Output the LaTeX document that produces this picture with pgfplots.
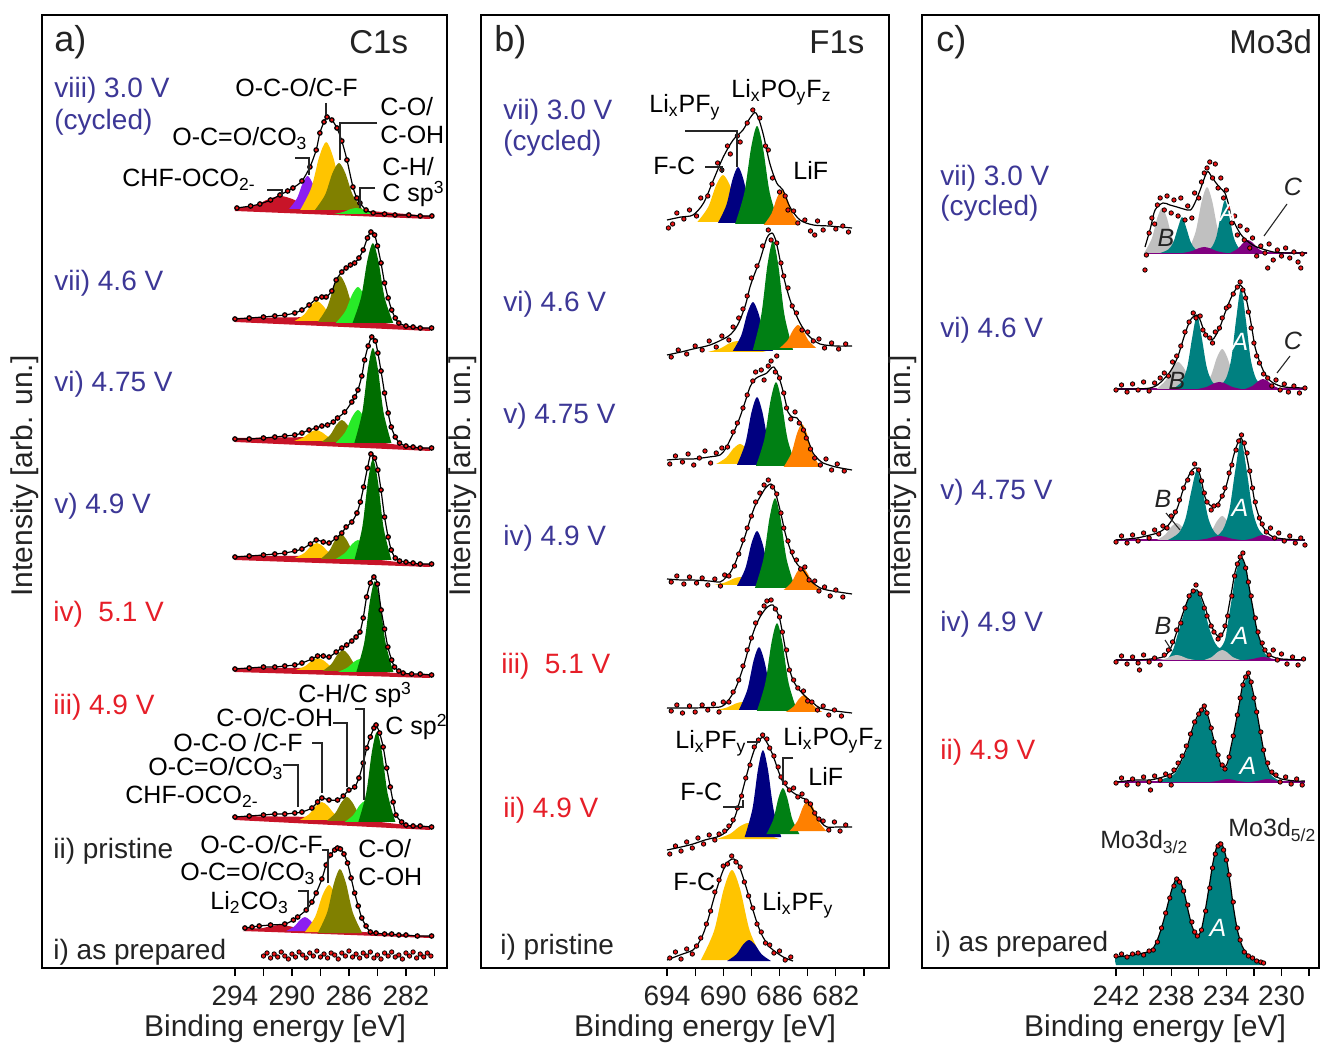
\documentclass[border=0pt]{standalone}
\usepackage{fontspec}
\setmainfont{Liberation Sans}
\usepackage{pgfplots}
\pgfplotsset{compat=1.18}
\definecolor{cCrim}{RGB}{200,20,40}
\definecolor{cViol}{RGB}{140,30,240}
\definecolor{cGold}{RGB}{255,196,0}
\definecolor{cOliv}{RGB}{128,128,0}
\definecolor{cLgrn}{RGB}{40,235,40}
\definecolor{cDgrn}{RGB}{0,110,0}
\definecolor{cFgrn}{RGB}{0,128,20}
\definecolor{cNavy}{RGB}{0,0,128}
\definecolor{cOrng}{RGB}{255,128,0}
\definecolor{cTeal}{RGB}{0,128,128}
\definecolor{cGray}{RGB}{192,192,192}
\definecolor{cPurp}{RGB}{128,0,128}
\definecolor{cDot}{RGB}{235,20,20}
\definecolor{cLblue}{RGB}{60,55,150}
\definecolor{cLred}{RGB}{230,30,40}
\definecolor{cTxt}{RGB}{35,35,35}
\newcommand{\fLet}{\fontsize{18}{18}\selectfont}
\newcommand{\fTit}{\fontsize{16.5}{16.5}\selectfont}
\newcommand{\fLab}{\fontsize{14}{14}\selectfont}
\newcommand{\fPk}{\fontsize{12.5}{12.5}\selectfont}
\newcommand{\fAx}{\fontsize{15}{15}\selectfont}
\pgfplotsset{
 panel/.style={anchor=south west, scale only axis, height=476.5pt, ymin=0, ymax=953, ytick=\empty,
   x dir=reverse, tick align=outside, xtick pos=bottom, major tick length=4pt, minor tick length=4pt,
   axis line style={line width=0.8pt}, every tick/.style={black, line width=0.6pt},
   xticklabel style={font=\fontsize{14}{14}\selectfont, yshift=-1.5pt, text=cTxt},
   /pgf/number format/assume math mode=true, /pgf/number format/1000 sep={}},
 comp/.style={draw=none, fill=#1, smooth},
 fit/.style={black, line width=0.6pt, smooth},
 envm/.style={black, line width=0.6pt, smooth, mark=*, mark size=1.1pt, mark options={draw=none, fill=cDot}},
 dots/.style={only marks, mark=*, mark size=1.1pt, mark options={draw=none, fill=cDot}},
}
\begin{document}
\begin{tikzpicture}
\useasboundingbox (0,0) rectangle (660pt,521.5pt);
%---------------- panel a : C1s
\begin{axis}[panel, at={(21pt,37.5pt)}, width=202.5pt, xmin=279.12, xmax=307.54,
  xtick={294,290,286,282}, minor xtick={292,288,284,280}]
% viii
\addplot[fill=cCrim, draw=none] coordinates {(294,761) (287,760) (282,754) (280.3,752) (280.3,749) (294,757)} -- cycle;
\addplot[comp=cCrim] coordinates {(287.68,758) (289.0,762.5) (289.96,768.9) (290.8,772) (291.64,768.9) (292.6,762.5) (293.92,758)} -- cycle;
\addplot[comp=cViol] coordinates {(287.6,759) (288.15,769.6) (288.55,784.7) (288.9,792) (289.25,784.7) (289.65,769.6) (290.2,759)} -- cycle;
\addplot[comp=cGold] coordinates {(285.78,758) (286.55,779.8) (287.11,811) (287.6,826) (288.09,811) (288.65,779.8) (289.42,758)} -- cycle;
\addplot[comp=cOliv] coordinates {(285.01,758) (285.73,773) (286.25,794.7) (286.7,805) (287.16,794.7) (287.68,773) (288.39,758)} -- cycle;
\addplot[comp=cLgrn] coordinates {(283.94,754) (284.6,756) (285.08,758.7) (285.5,760) (285.92,758.7) (286.4,756) (287.06,754)} -- cycle;
\addplot[envm] coordinates {(293.86,760) (292.9,762) (292.25,764) (291.5,768) (290.84,773) (290.3,777) (289.93,780) (289.3,787) (288.74,801) (288.3,818) (288.04,835) (287.75,846) (287.54,851) (287.2,848) (286.84,840) (286.5,827) (286.14,808) (285.72,781) (285.45,770) (285.23,765) (284.8,758) (284.3,755) (283.5,754) (282.77,753) (281.8,753) (281,752) (280.18,752)};
% vii
\addplot[fill=cCrim, draw=none] coordinates {(294,650) (288,651) (285,648) (282,642) (280.3,640) (280.3,637) (294,646)} -- cycle;
\addplot[comp=cGold] coordinates {(286.69,647) (287.35,653.4) (287.83,662.6) (288.25,667) (288.67,662.6) (289.15,653.4) (289.81,647)} -- cycle;
\addplot[comp=cOliv] coordinates {(285.07,646) (285.73,660.7) (286.21,681.9) (286.63,692) (287.05,681.9) (287.53,660.7) (288.19,646)} -- cycle;
\addplot[comp=cLgrn] coordinates {(283.81,645) (284.47,656.5) (284.95,673.1) (285.37,681) (285.79,673.1) (286.27,656.5) (286.93,645)} -- cycle;
\addplot[comp=cDgrn] coordinates {(282.89,645) (283.5,670.6) (283.94,707.4) (284.32,725) (284.71,707.4) (285.15,670.6) (285.75,645)} -- cycle;
\addplot[envm] coordinates {(294,649) (293,650) (292,651) (291.2,652) (290.5,653) (289.8,655) (289.3,658) (288.8,663) (288.3,669) (287.9,671) (287.6,671) (287.2,677) (286.9,688) (286.5,696) (286.2,700) (285.9,703) (285.6,705) (285.3,710) (285.0,718) (284.7,730) (284.46,736) (284.2,733) (284.0,722) (283.75,705) (283.5,685) (283.25,670) (283.0,658) (282.75,650) (282.5,645) (282,642) (281.5,641) (281,640) (280.2,640)};
% vi
\addplot[fill=cCrim, draw=none] coordinates {(294,530) (288,531) (285,528) (282,522) (280.3,520) (280.3,517) (294,526)} -- cycle;
\addplot[comp=cGold] coordinates {(286.74,527) (287.4,530.5) (287.88,535.6) (288.3,538) (288.72,535.6) (289.2,530.5) (289.86,527)} -- cycle;
\addplot[comp=cOliv] coordinates {(285.06,526) (285.67,533) (286.11,543.2) (286.49,548) (286.88,543.2) (287.32,533) (287.92,526)} -- cycle;
\addplot[comp=cLgrn] coordinates {(283.81,525) (284.47,535.6) (284.95,550.7) (285.37,558) (285.79,550.7) (286.27,535.6) (286.93,525)} -- cycle;
\addplot[comp=cDgrn] coordinates {(283.02,525) (283.57,555.4) (283.97,599.1) (284.32,620) (284.67,599.1) (285.07,555.4) (285.62,525)} -- cycle;
\addplot[envm] coordinates {(294,529) (293,529) (292,530) (291.2,531) (290.5,532) (289.8,533) (289.3,535) (288.8,538) (288.3,540) (287.9,542) (287.5,543) (287.1,546) (286.8,550) (286.3,556) (285.8,566) (285.6,571) (285.37,578) (285.1,592) (284.9,608) (284.65,622) (284.4,631) (284.15,627) (283.97,615) (283.75,597) (283.5,575) (283.25,555) (283.03,541) (282.75,531) (282.45,525) (282,522) (281.5,521) (281,520) (280.2,520)};
% v
\addplot[fill=cCrim, draw=none] coordinates {(294,412) (288,412) (285,410) (282,405) (280.3,404) (280.3,401) (294,408)} -- cycle;
\addplot[comp=cGold] coordinates {(286.69,410) (287.35,414.8) (287.83,421.7) (288.25,425) (288.67,421.7) (289.15,414.8) (289.81,410)} -- cycle;
\addplot[comp=cOliv] coordinates {(285.13,409) (285.74,417) (286.18,428.5) (286.56,434) (286.95,428.5) (287.39,417) (287.99,409)} -- cycle;
\addplot[comp=cLgrn] coordinates {(283.81,409) (284.47,415.1) (284.95,423.8) (285.37,428) (285.79,423.8) (286.27,415.1) (286.93,409)} -- cycle;
\addplot[comp=cDgrn] coordinates {(283.02,408) (283.57,440.3) (283.97,486.8) (284.32,509) (284.67,486.8) (285.07,440.3) (285.62,408)} -- cycle;
\addplot[envm] coordinates {(294,411) (293,412) (292,413) (291.2,414) (290.5,415) (289.8,417) (289.3,419) (288.7,424) (288.3,428) (287.8,426) (287.4,425) (286.9,430) (286.5,435) (286.2,441) (285.8,446) (285.44,455) (285.2,466) (284.97,481) (284.7,500) (284.46,514) (284.2,510) (283.97,498) (283.75,478) (283.5,451) (283.25,431) (283.03,418) (282.75,410) (282.45,407) (282,406) (281.5,405) (281,404) (280.2,404)};
% iv
\addplot[fill=cCrim, draw=none] coordinates {(294,300) (288,300) (285,298) (282,294) (280.3,293) (280.3,290) (294,296)} -- cycle;
\addplot[comp=cGold] coordinates {(286.62,298) (287.28,301.8) (287.76,307.4) (288.18,310) (288.6,307.4) (289.08,301.8) (289.74,298)} -- cycle;
\addplot[comp=cOliv] coordinates {(284.99,297) (285.6,303.7) (286.04,313.4) (286.42,318) (286.81,313.4) (287.25,303.7) (287.85,297)} -- cycle;
\addplot[comp=cLgrn] coordinates {(283.67,296) (284.33,300.2) (284.81,306.1) (285.23,309) (285.65,306.1) (286.13,300.2) (286.79,296)} -- cycle;
\addplot[comp=cDgrn] coordinates {(282.88,296) (283.43,325.1) (283.83,367) (284.18,387) (284.53,367) (284.93,325.1) (285.48,296)} -- cycle;
\addplot[envm] coordinates {(294,299) (293,300) (292,301) (291.2,301) (290.5,302) (289.8,303) (289.3,305) (288.6,309) (288.2,312) (287.8,312) (287.4,311) (286.9,316) (286.5,320) (286.16,323) (285.8,327) (285.5,331) (285.23,336) (285.0,350) (284.76,371) (284.5,385) (284.25,391) (284.0,384) (283.74,358) (283.5,339) (283.27,321) (283.0,308) (282.8,301) (282.5,297) (282.2,295) (281.6,294) (281,294) (280.2,293)};
% iii
\addplot[fill=cCrim, draw=none] coordinates {(294,152) (288,151) (285,148) (282,143) (280.3,141) (280.3,138) (294,148)} -- cycle;
\addplot[comp=cGold] coordinates {(286.34,148) (287.0,153.8) (287.48,162) (287.9,166) (288.32,162) (288.8,153.8) (289.46,148)} -- cycle;
\addplot[comp=cOliv] coordinates {(284.71,147) (285.32,154.7) (285.76,165.7) (286.14,171) (286.53,165.7) (286.97,154.7) (287.57,147)} -- cycle;
\addplot[comp=cLgrn] coordinates {(283.45,146) (284.06,152.7) (284.5,162.4) (284.88,167) (285.27,162.4) (285.71,152.7) (286.31,146)} -- cycle;
\addplot[comp=cDgrn] coordinates {(282.74,146) (283.29,174.8) (283.69,216.2) (284.04,236) (284.39,216.2) (284.79,174.8) (285.34,146)} -- cycle;
\addplot[envm] coordinates {(294,151) (293,152) (292,153) (291.2,154) (290.5,154) (289.8,155) (289.3,156) (288.6,160) (288.2,166) (287.9,170) (287.4,168) (286.8,168) (286.4,172) (286.0,178) (285.6,181) (285.3,190) (285.0,205) (284.75,220) (284.5,231) (284.25,240) (284.1,243) (283.85,235) (283.6,221) (283.35,200) (283.1,181) (282.9,166) (282.7,153) (282.3,146) (282,143) (281.5,142) (281,142) (280.2,141)};
% ii
\addplot[fill=cCrim, draw=none] coordinates {(293.3,40) (288,38) (285,36) (282,33) (280.3,32) (280.3,30) (293.3,37)} -- cycle;
\addplot[comp=cCrim] coordinates {(288.24,37) (289.34,39) (290.14,41.7) (290.84,43) (291.54,41.7) (292.34,39) (293.44,37)} -- cycle;
\addplot[comp=cViol] coordinates {(287.79,37) (288.34,41.5) (288.74,47.9) (289.09,51) (289.44,47.9) (289.84,41.5) (290.39,37)} -- cycle;
\addplot[comp=cGold] coordinates {(285.71,36) (286.43,51) (286.95,72.7) (287.4,83) (287.86,72.7) (288.38,51) (289.09,36)} -- cycle;
\addplot[comp=cOliv] coordinates {(285.07,35) (285.73,55.5) (286.21,84.9) (286.63,99) (287.05,84.9) (287.53,55.5) (288.19,35)} -- cycle;
\addplot[envm] coordinates {(293.3,40) (292.8,41) (292.3,42) (291.5,43) (290.5,44) (289.9,48) (289.6,51) (289.0,58) (288.6,66) (288.3,75) (287.9,89) (287.6,103) (287.3,113) (287.0,118) (286.8,120) (286.6,119) (286.35,114) (286.1,105) (285.85,90) (285.6,75) (285.35,62) (285.1,50) (284.8,42) (284.5,36) (284.1,35) (283.5,34) (283,34) (282.5,33) (282,33) (281.2,32) (280.2,32)};
% i
\addplot[dots] coordinates {(292.0,12) (291.75,15) (291.5,10) (291.25,14) (291.0,11) (290.75,16) (290.5,12) (290.25,9) (290.0,14) (289.75,11) (289.5,16) (289.25,13) (289.0,10) (288.75,15) (288.5,12) (288.25,17) (288.0,11) (287.75,14) (287.5,10) (287.25,15) (287.0,13) (286.75,9) (286.5,15) (286.25,12) (286.0,17) (285.75,11) (285.5,14) (285.25,10) (285.0,15) (284.75,12) (284.5,16) (284.25,10) (284.0,13) (283.75,9) (283.5,15) (283.25,12) (283.0,16) (282.75,11) (282.5,13) (282.25,9) (282.0,15) (281.75,12) (281.5,16) (281.25,10) (281.0,14) (280.75,11) (280.5,15) (280.25,12)};
\end{axis}
%---------------- panel b : F1s
\begin{axis}[panel, at={(240.5pt,37.5pt)}, width=204pt, xmin=678.22, xmax=707.22,
  xtick={694,690,686,682}, minor xtick={692,688,684,680}]
% vii
\addplot[comp=cGold] coordinates {(688.2,746) (688.97,761) (689.53,782.7) (690.02,793) (690.51,782.7) (691.07,761) (691.84,746)} -- cycle;
\addplot[comp=cNavy] coordinates {(687.52,745) (688.13,762.9) (688.57,788.7) (688.95,801) (689.34,788.7) (689.78,762.9) (690.38,745)} -- cycle;
\addplot[comp=cFgrn] coordinates {(686.04,744) (686.7,775.4) (687.18,820.4) (687.6,842) (688.02,820.4) (688.5,775.4) (689.16,744)} -- cycle;
\addplot[comp=cOrng] coordinates {(684.53,743) (685.08,754.2) (685.48,770.3) (685.83,778) (686.18,770.3) (686.58,754.2) (687.13,743)} -- cycle;
\addplot[dots] coordinates {(693.9,740) (693.6,744) (693.3,755) (692.8,749) (692.4,758) (691.9,752) (691.6,770) (691.1,772) (690.8,784) (690.4,805) (690.1,798) (689.7,822) (689.5,814) (689.0,832) (688.8,826) (688.3,845) (687.9,858) (687.4,850) (687.0,822) (686.8,818) (686.5,790) (686.0,776) (685.6,772) (685.4,758) (685.0,757) (684.7,745) (684.2,748) (683.8,737) (683.5,733) (683.3,747) (682.9,738) (682.4,745) (682.0,739) (681.5,742) (681.1,736)};
\addplot[fit] coordinates {(694,748) (693,751) (692.15,753) (691.4,765) (690.7,788) (690.0,811) (689.3,828) (688.6,838) (688.1,850) (687.67,855) (687.2,836) (686.7,805) (686.2,785) (685.76,778) (685.26,761) (684.55,748) (683.6,743) (682.5,742) (680.85,740)};
% vi
\addplot[comp=cGold] coordinates {(686.94,616) (687.82,619.5) (688.46,624.6) (689.02,627) (689.58,624.6) (690.22,619.5) (691.1,616)} -- cycle;
\addplot[comp=cNavy] coordinates {(686.46,617) (687.07,632.7) (687.51,655.2) (687.89,666) (688.28,655.2) (688.72,632.7) (689.32,617)} -- cycle;
\addplot[comp=cFgrn] coordinates {(685.04,618) (685.65,652.9) (686.09,703) (686.47,727) (686.86,703) (687.3,652.9) (687.9,618)} -- cycle;
\addplot[comp=cOrng] coordinates {(683.39,620) (683.94,627.4) (684.34,637.9) (684.69,643) (685.04,637.9) (685.44,627.4) (685.99,620)} -- cycle;
\addplot[dots] coordinates {(693.7,611) (693.2,618) (692.6,614) (692.0,622) (691.5,618) (691.0,627) (690.5,621) (690.1,632) (689.6,628) (689.3,641) (688.9,650) (688.6,659) (688.3,672) (688.0,690) (687.6,702) (687.2,722) (686.8,738) (686.6,728) (686.2,725) (685.9,705) (685.7,692) (685.4,680) (685.1,662) (684.8,655) (684.4,638) (684.0,636) (683.6,627) (683.2,629) (682.8,620) (682.3,625) (681.8,619) (681.3,624)};
\addplot[fit] coordinates {(694,613) (693,616) (692.15,619) (690.94,623) (689.73,631) (689.2,638) (688.81,648) (688.4,664) (688.1,681) (687.75,695) (687.39,708) (686.9,730) (686.54,735) (686.3,729) (686.11,718) (685.85,700) (685.6,685) (685.3,670) (685.04,660) (684.55,645) (684.2,637) (683.84,631) (683.13,624) (682,622) (680.85,622)};
% v
\addplot[comp=cGold] coordinates {(687.12,504) (687.84,510.4) (688.36,519.6) (688.81,524) (689.27,519.6) (689.79,510.4) (690.5,504)} -- cycle;
\addplot[comp=cNavy] coordinates {(686.17,503) (686.78,524.8) (687.22,556) (687.6,571) (687.99,556) (688.43,524.8) (689.03,503)} -- cycle;
\addplot[comp=cFgrn] coordinates {(684.82,502) (685.43,528.9) (685.87,567.5) (686.25,586) (686.64,567.5) (687.08,528.9) (687.68,502)} -- cycle;
\addplot[comp=cOrng] coordinates {(683.11,501) (683.66,514.8) (684.06,534.5) (684.41,544) (684.76,534.5) (685.16,514.8) (685.71,501)} -- cycle;
\addplot[dots] coordinates {(693.8,504) (693.4,512) (692.9,506) (692.5,514) (692.1,503) (691.7,510) (691.3,517) (690.9,505) (690.5,515) (690.1,520) (689.7,521) (689.3,536) (689.0,545) (688.6,560) (688.3,573) (687.9,587) (687.7,596) (687.3,598) (687.1,588) (686.8,602) (686.6,607) (686.3,596) (686.2,612) (686.0,590) (685.7,575) (685.5,560) (685.2,549) (684.9,556) (684.6,545) (684.3,538) (684.1,530) (683.8,519) (683.5,510) (683.1,503) (682.7,509) (682.3,498) (681.9,504) (681.4,497)};
\addplot[fit] coordinates {(694,508) (693,509) (692.15,509) (691,511) (690.23,513) (689.85,519) (689.52,528) (689.15,539) (688.81,551) (688.45,566) (688.1,581) (687.8,588) (687.53,591) (687.2,593) (686.9,595) (686.65,599) (686.4,601) (686.1,593) (685.83,581) (685.6,568) (685.4,556) (685.1,551) (684.76,550) (684.45,543) (684.19,535) (683.9,525) (683.62,515) (683.2,508) (682.91,505) (682,501) (680.85,498)};
% iv
\addplot[comp=cGold] coordinates {(686.99,383) (687.76,385.6) (688.32,389.2) (688.81,391) (689.3,389.2) (689.86,385.6) (690.63,383)} -- cycle;
\addplot[comp=cNavy] coordinates {(686.17,382) (686.78,399.6) (687.22,424.9) (687.6,437) (687.99,424.9) (688.43,399.6) (689.03,382)} -- cycle;
\addplot[comp=cFgrn] coordinates {(684.89,380) (685.5,408.8) (685.94,450.2) (686.32,470) (686.71,450.2) (687.15,408.8) (687.75,380)} -- cycle;
\addplot[comp=cOrng] coordinates {(683.11,378) (683.66,385.4) (684.06,395.9) (684.41,401) (684.76,395.9) (685.16,385.4) (685.71,378)} -- cycle;
\addplot[dots] coordinates {(693.7,386) (693.3,392) (692.8,384) (692.4,391) (691.9,385) (691.5,390) (691.1,383) (690.6,389) (690.2,382) (689.9,393) (689.6,392) (689.2,402) (688.9,414) (688.6,428) (688.3,440) (688.0,452) (687.7,466) (687.4,475) (687.1,483) (686.8,488) (686.5,481) (686.2,474) (685.9,455) (685.7,440) (685.4,427) (685.1,416) (684.8,408) (684.5,399) (684.2,401) (683.9,388) (683.5,387) (683.2,377) (682.8,381) (682.4,372) (682.0,378) (681.5,371)};
\addplot[fit] coordinates {(694,389) (693,388) (692.15,388) (691,387) (690.23,386) (689.85,390) (689.52,395) (689.15,405) (688.81,418) (688.45,432) (688.1,448) (687.75,462) (687.39,471) (687.0,480) (686.61,484) (686.35,478) (686.11,466) (685.85,451) (685.6,435) (685.3,421) (685.04,411) (684.7,403) (684.33,398) (684.0,391) (683.62,385) (683.1,380) (682.63,378) (681.8,376) (680.85,374)};
% iii
\addplot[comp=cGold] coordinates {(686.85,258) (687.62,260.6) (688.18,264.2) (688.67,266) (689.16,264.2) (689.72,260.6) (690.49,258)} -- cycle;
\addplot[comp=cNavy] coordinates {(686.03,258) (686.64,278.2) (687.08,307.1) (687.46,321) (687.85,307.1) (688.29,278.2) (688.89,258)} -- cycle;
\addplot[comp=cFgrn] coordinates {(684.75,257) (685.36,285.2) (685.8,325.6) (686.18,345) (686.57,325.6) (687.01,285.2) (687.61,257)} -- cycle;
\addplot[comp=cOrng] coordinates {(682.96,256) (683.51,261.4) (683.91,269.3) (684.26,273) (684.61,269.3) (685.01,261.4) (685.56,256)} -- cycle;
\addplot[dots] coordinates {(693.7,257) (693.3,263) (692.9,255) (692.4,262) (692.0,256) (691.5,263) (691.1,258) (690.7,264) (690.3,256) (690.0,266) (689.6,266) (689.3,276) (688.9,288) (688.6,302) (688.3,318) (688.0,330) (687.7,345) (687.4,355) (687.1,362) (686.9,367) (686.6,368) (686.3,359) (686.0,351) (685.8,336) (685.5,318) (685.3,298) (685.0,288) (684.7,280) (684.3,277) (684.0,267) (683.7,266) (683.3,258) (682.9,262) (682.5,253) (682.1,258) (681.6,252)};
\addplot[fit] coordinates {(694,260) (692.15,260) (691,260.5) (690.23,261) (689.85,264) (689.52,270) (689.15,279) (688.81,291) (688.45,307) (688.1,325) (687.75,340) (687.39,351) (687.0,359) (686.75,362) (686.47,363) (686.2,357) (685.97,348) (685.7,328) (685.4,305) (685.1,290) (684.76,281) (684.4,275) (684.05,270) (683.6,265) (683.13,260) (682,257) (680.85,255)};
% ii
\addplot[comp=cGold] coordinates {(686.03,129) (686.97,134.1) (687.65,141.5) (688.24,145) (688.84,141.5) (689.52,134.1) (690.45,129)} -- cycle;
\addplot[comp=cNavy] coordinates {(685.88,131) (686.43,158.8) (686.83,198.9) (687.18,218) (687.53,198.9) (687.93,158.8) (688.48,131)} -- cycle;
\addplot[comp=cFgrn] coordinates {(684.59,134) (685.09,148.7) (685.45,169.9) (685.76,180) (686.08,169.9) (686.44,148.7) (686.93,134)} -- cycle;
\addplot[comp=cOrng] coordinates {(682.68,137) (683.23,146.9) (683.63,161.2) (683.98,168) (684.33,161.2) (684.73,146.9) (685.28,137)} -- cycle;
\addplot[dots] coordinates {(693.8,114) (693.4,122) (693.0,117) (692.6,126) (692.2,120) (691.8,130) (691.4,124) (691.0,133) (690.6,128) (690.3,134) (689.9,137) (689.6,142) (689.3,148) (689.0,160) (688.7,172) (688.4,190) (688.1,203) (687.8,221) (687.5,228) (687.2,233) (686.9,229) (686.7,220) (686.4,212) (686.1,201) (685.9,191) (685.6,185) (685.3,178) (685.0,180) (684.7,171) (684.4,174) (684.1,167) (683.8,164) (683.5,155) (683.2,149) (682.9,147) (682.5,138) (682.1,146) (681.7,137) (681.3,143)};
\addplot[fit] coordinates {(694,118) (693,121) (692.15,124) (691.3,128) (690.45,131) (690,134) (689.52,141) (689.15,152) (688.81,168) (688.45,187) (688.1,205) (687.8,218) (687.6,225) (687.3,230) (687.11,230) (686.8,223) (686.54,215) (686.3,206) (686.11,198) (685.8,187) (685.47,181) (685.1,176) (684.76,173) (684.4,170) (684.05,168) (683.7,160) (683.34,151) (683,145) (682.63,141) (681.8,141) (680.85,141)};
% i
\addplot[comp=cGold] coordinates {(687.17,8) (688.11,36.8) (688.79,78.2) (689.38,98) (689.98,78.2) (690.66,36.8) (691.59,8)} -- cycle;
\addplot[comp=cNavy] coordinates {(686.61,7) (687.27,13.7) (687.75,23.4) (688.17,28) (688.59,23.4) (689.07,13.7) (689.73,7)} -- cycle;
\addplot[dots] coordinates {(693.8,10) (693.4,16) (693.0,9) (692.6,19) (692.2,14) (691.9,22) (691.6,30) (691.2,44) (690.9,57) (690.6,76) (690.3,88) (690.0,102) (689.7,104) (689.4,112) (689.1,106) (688.8,101) (688.5,86) (688.2,72) (687.9,60) (687.6,44) (687.3,36) (687.0,25) (686.7,23) (686.4,15) (686.0,17) (685.6,8) (685.2,11)};
\addplot[fit] coordinates {(694,8) (693.08,13) (692.15,18) (691.75,25) (691.4,35) (691.05,50) (690.7,68) (690.35,84) (690.0,98) (689.6,107) (689.24,109) (688.9,103) (688.6,91) (688.25,75) (687.89,58) (687.55,43) (687.18,31) (686.7,21) (686.18,15) (685.6,10) (685.04,7)};
\end{axis}
%---------------- panel c : Mo3d
\begin{axis}[panel, at={(461pt,37.5pt)}, width=198.5pt, xmin=227.28, xmax=256.07,
  xtick={242,238,234,230}, minor xtick={240,236,232,228}]
% vii
\addplot[cPurp, line width=0.6pt] coordinates {(239.9,715) (228.15,715)};
\addplot[comp=cGray] coordinates {(237.36,715) (237.91,729.4) (238.31,750.1) (238.66,760) (239.01,750.1) (239.41,729.4) (239.96,715)} -- cycle;
\addplot[comp=cGray] coordinates {(233.97,715) (234.58,736.1) (235.02,766.5) (235.4,781) (235.79,766.5) (236.23,736.1) (236.83,715)} -- cycle;
\addplot[comp=cTeal] coordinates {(235.64,715) (236.22,718.6) (236.58,725.8) (236.9,739.8) (237.21,751) (237.52,739.8) (237.84,725.8) (238.2,718.6) (238.79,715)} -- cycle;
\addplot[comp=cTeal] coordinates {(232.53,715) (233.11,720.3) (233.47,730.9) (233.79,751.6) (234.1,768) (234.42,751.6) (234.73,730.9) (235.09,720.3) (235.68,715)} -- cycle;
\addplot[comp=cPurp] coordinates {(234.04,715) (234.7,716.9) (235.18,719.7) (235.6,721) (236.02,719.7) (236.5,716.9) (237.16,715)} -- cycle;
\addplot[comp=cPurp] coordinates {(231.13,715) (231.68,719.2) (232.08,725.1) (232.43,728) (232.78,725.1) (233.18,719.2) (233.73,715)} -- cycle;
\addplot[dots] coordinates {(239.9,698) (239.8,713) (239.6,735) (239.4,750) (239.2,744) (239.0,763) (238.8,770) (238.5,758) (238.3,772) (238.0,755) (237.8,768) (237.5,752) (237.3,770) (237.0,748) (236.8,762) (236.5,750) (236.3,775) (236.0,770) (235.8,786) (235.6,795) (235.4,800) (235.2,806) (235.0,790) (234.8,804) (234.6,780) (234.4,790) (234.2,770) (234.0,778) (233.8,760) (233.6,745) (233.4,752) (233.2,733) (233.0,742) (232.7,728) (232.5,738) (232.3,720) (232.1,730) (231.8,712) (231.5,722) (231.2,715) (231.0,700) (230.9,724) (230.6,708) (230.3,718) (230.0,712) (229.7,720) (229.4,710) (229.1,716) (228.8,706) (228.6,700) (228.5,714)};
\addplot[fit] coordinates {(239.9,721) (239.5,740) (239.17,758) (238.6,765) (238.1,763) (237.58,761) (237.1,759) (236.6,758) (236.25,766) (235.9,778) (235.4,796) (235.1,792) (234.8,786) (234.45,780) (234.1,775) (233.8,762) (233.5,748) (233.15,738) (232.8,731) (232.3,725) (231.8,721) (230.6,716) (229.5,715) (228.15,715)};
% vi
\addplot[cPurp, line width=0.6pt] coordinates {(242,579) (228.3,579)};
\addplot[comp=cGray] coordinates {(235.94,579) (236.6,587.6) (237.08,600.1) (237.5,606) (237.92,600.1) (238.4,587.6) (239.06,579)} -- cycle;
\addplot[comp=cGray] coordinates {(232.87,579) (233.48,591.8) (233.92,610.2) (234.3,619) (234.69,610.2) (235.13,591.8) (235.73,579)} -- cycle;
\addplot[comp=cTeal] coordinates {(234.38,579) (235.03,586.4) (235.43,601.2) (235.78,630.1) (236.13,653) (236.48,630.1) (236.83,601.2) (237.23,586.4) (237.88,579)} -- cycle;
\addplot[comp=cTeal] coordinates {(231.19,579) (231.84,589.1) (232.24,609.3) (232.59,648.7) (232.94,680) (233.29,648.7) (233.64,609.3) (234.04,589.1) (234.69,579)} -- cycle;
\addplot[comp=cPurp] coordinates {(232.94,579) (233.6,581.2) (234.08,584.5) (234.5,586) (234.92,584.5) (235.4,581.2) (236.06,579)} -- cycle;
\addplot[comp=cPurp] coordinates {(230.04,579) (230.59,582.2) (230.99,586.8) (231.34,589) (231.69,586.8) (232.09,582.2) (232.64,579)} -- cycle;
\addplot[dots] coordinates {(242.0,578) (241.6,583) (241.2,576) (240.8,584) (240.4,578) (240.0,586) (239.6,577) (239.2,585) (238.8,590) (238.5,595) (238.2,592) (237.9,606) (237.6,612) (237.3,622) (237.0,636) (236.7,646) (236.4,655) (236.2,650) (235.9,652) (235.7,638) (235.5,633) (235.2,630) (235.0,625) (234.8,636) (234.5,640) (234.3,650) (234.0,660) (233.8,662) (233.5,674) (233.2,681) (233.0,686) (232.8,678) (232.6,670) (232.4,656) (232.2,640) (232.0,625) (231.8,612) (231.6,605) (231.3,594) (231.0,590) (230.7,582) (230.4,588) (230.1,578) (229.8,584) (229.5,576) (229.1,582) (228.7,575) (228.3,580)};
\addplot[fit] coordinates {(242,579) (240.5,579) (239.53,580) (239,583) (238.6,588) (238.2,594) (237.87,601) (237.5,612) (237.14,628) (236.8,642) (236.5,650) (236.13,653) (235.9,648) (235.7,640) (235.4,632) (235.04,628) (234.75,633) (234.46,641) (234.1,655) (233.73,668) (233.35,678) (233.0,683) (232.7,677) (232.43,661) (232.15,640) (231.92,621) (231.6,607) (231.34,598) (231,590) (230.6,585) (229.8,581) (228.3,580)};
% v
\addplot[cPurp, line width=0.6pt] coordinates {(242,428) (228.3,428)};
\addplot[comp=cGray] coordinates {(236.17,428) (236.78,433.4) (237.22,441.3) (237.6,445) (237.99,441.3) (238.43,433.4) (239.03,428)} -- cycle;
\addplot[comp=cGray] coordinates {(232.87,428) (233.48,435.7) (233.92,446.7) (234.3,452) (234.69,446.7) (235.13,435.7) (235.73,428)} -- cycle;
\addplot[comp=cTeal] coordinates {(234.03,428) (234.81,435) (235.29,449) (235.71,476.3) (236.13,498) (236.55,476.3) (236.97,449) (237.45,435) (238.23,428)} -- cycle;
\addplot[comp=cTeal] coordinates {(230.84,428) (231.62,438) (232.1,458) (232.52,497) (232.94,528) (233.36,497) (233.78,458) (234.26,438) (235.04,428)} -- cycle;
\addplot[comp=cPurp] coordinates {(232.94,428) (233.6,429.3) (234.08,431.1) (234.5,432) (234.92,431.1) (235.4,429.3) (236.06,428)} -- cycle;
\addplot[comp=cPurp] coordinates {(230.04,428) (230.59,429.6) (230.99,431.9) (231.34,433) (231.69,431.9) (232.09,429.6) (232.64,428)} -- cycle;
\addplot[dots] coordinates {(242.0,426) (241.6,432) (241.2,425) (240.8,433) (240.4,427) (240.0,435) (239.6,430) (239.2,438) (238.9,434) (238.6,442) (238.3,440) (238.0,452) (237.7,456) (237.4,468) (237.1,480) (236.8,488) (236.5,495) (236.3,504) (236.0,498) (235.8,487) (235.6,475) (235.4,466) (235.1,458) (234.9,462) (234.6,463) (234.3,472) (234.1,480) (233.8,495) (233.6,503) (233.3,518) (233.1,527) (232.9,533) (232.7,525) (232.5,515) (232.3,497) (232.1,480) (231.9,466) (231.6,450) (231.4,444) (231.1,436) (230.8,440) (230.5,430) (230.2,435) (229.8,427) (229.4,432) (229.0,425) (228.6,430) (228.3,423)};
\addplot[fit] coordinates {(242,428) (240.5,430) (239.53,433) (239,435) (238.6,438) (238.2,443) (237.87,450) (237.5,462) (237.14,478) (236.8,490) (236.5,498) (236.13,500) (235.85,490) (235.55,471) (235.2,463) (234.82,461) (234.45,468) (234.1,478) (233.8,493) (233.5,511) (233.2,524) (232.94,530) (232.7,522) (232.43,505) (232.15,483) (231.92,465) (231.6,450) (231.34,441) (231,435) (230.6,431) (229.8,429) (228.3,428)};
% iv
\addplot[cPurp, line width=0.6pt] coordinates {(242,308) (228.3,308)};
\addplot[comp=cTeal] coordinates {(238.3,308) (237.87,318) (237.5,335) (237.14,352) (236.8,368) (236.5,375) (236.13,377) (235.8,368) (235.55,356) (235.2,338) (234.82,325) (234.46,320) (234.1,328) (233.9,344) (233.6,370) (233.37,391) (233.1,405) (232.86,409) (232.6,400) (232.35,381) (232.05,358) (231.78,338) (231.4,320) (231.05,312) (230.6,308)} -- cycle;
\addplot[comp=cGray] coordinates {(236.3,308) (236.85,309.6) (237.25,311.9) (237.6,313) (237.95,311.9) (238.35,309.6) (238.9,308)} -- cycle;
\addplot[comp=cGray] coordinates {(233.0,308) (233.55,311) (233.95,315.8) (234.3,318) (234.65,315.8) (235.05,311) (235.6,308)} -- cycle;
\addplot[comp=cPurp] coordinates {(230.04,308) (230.59,309) (230.99,310.3) (231.34,311) (231.69,310.3) (232.09,309) (232.64,308)} -- cycle;
\addplot[dots] coordinates {(242.0,306) (241.6,312) (241.2,304) (240.8,311) (240.4,305) (240.3,298) (240.0,313) (239.6,306) (239.2,310) (238.8,303) (238.5,313) (238.2,318) (237.9,326) (237.6,338) (237.3,345) (237.0,360) (236.7,372) (236.4,377) (236.2,383) (235.9,374) (235.6,360) (235.4,352) (235.1,342) (234.9,336) (234.6,329) (234.4,333) (234.1,342) (233.9,352) (233.6,372) (233.4,392) (233.2,404) (233.0,411) (232.8,415) (232.6,400) (232.4,386) (232.2,372) (231.9,350) (231.7,336) (231.4,325) (231.2,318) (230.9,313) (230.6,318) (230.3,308) (230.0,314) (229.6,304) (229.2,311) (228.8,303) (228.4,309)};
\addplot[fit] coordinates {(242,308) (240.5,308) (239.53,309) (238.6,311) (238.2,316) (237.87,325) (237.5,340) (237.14,355) (236.8,368) (236.5,376) (236.13,378) (235.85,372) (235.55,361) (235.2,346) (234.82,335) (234.46,331) (234.1,340) (233.9,355) (233.6,378) (233.37,396) (233.1,407) (232.86,410) (232.6,401) (232.35,381) (232.05,358) (231.78,338) (231.4,322) (231.05,315) (230.6,311) (230,309) (228.3,308)};
% ii
\addplot[cPurp, line width=0.6pt] coordinates {(242,186) (228.3,186)};
\addplot[comp=cTeal] coordinates {(238.8,186) (238.6,189) (237.87,193) (237.4,202) (236.85,219) (236.45,238) (236.13,249) (235.8,257) (235.55,258) (235.25,246) (234.96,229) (234.6,210) (234.3,199) (233.95,202) (233.65,220) (233.37,239) (233.05,263) (232.79,282) (232.55,289) (232.36,290) (232.05,273) (231.78,253) (231.5,231) (231.2,209) (230.9,196) (230.6,191) (230,186)} -- cycle;
\addplot[comp=cPurp] coordinates {(232.6,186) (233.15,187) (233.55,188.3) (233.9,189) (234.25,188.3) (234.65,187) (235.2,186)} -- cycle;
\addplot[comp=cPurp] coordinates {(229.7,186) (230.25,187) (230.65,188.3) (231.0,189) (231.35,188.3) (231.75,187) (232.3,186)} -- cycle;
\addplot[dots] coordinates {(242.0,185) (241.6,190) (241.2,183) (240.8,189) (240.4,184) (240.0,191) (239.6,186) (239.5,178) (239.2,192) (238.8,188) (238.4,194) (238.1,192) (238.0,183) (237.8,198) (237.5,205) (237.2,212) (236.9,222) (236.6,234) (236.3,246) (236.0,254) (235.8,258) (235.6,262) (235.4,255) (235.1,240) (234.9,226) (234.6,213) (234.3,203) (234.1,199) (233.8,211) (233.5,232) (233.2,253) (233.0,270) (232.8,283) (232.6,291) (232.4,295) (232.2,286) (232.0,270) (231.8,256) (231.5,236) (231.3,218) (231.0,205) (230.7,196) (230.4,193) (230.1,186) (229.7,191) (229.3,184) (228.9,189) (228.5,183)};
\addplot[fit] coordinates {(242,186) (240.5,188) (239.53,188) (238.6,191) (237.87,195) (237.4,204) (236.85,221) (236.45,240) (236.13,251) (235.8,259) (235.55,260) (235.25,248) (234.96,231) (234.6,212) (234.3,201) (233.95,204) (233.65,222) (233.37,241) (233.05,265) (232.79,285) (232.55,291) (232.36,292) (232.05,275) (231.78,255) (231.5,233) (231.2,211) (230.9,198) (230.6,193) (230,189) (229,187) (228.3,187)};
% i
\addplot[comp=cTeal] coordinates {(242,3) (242,11) (240.77,13) (239.53,16) (239.1,24) (238.8,35) (238.5,49) (238.2,65) (237.9,80) (237.58,89) (237.3,84) (237.0,71) (236.75,55) (236.49,41) (236.25,33) (236.05,31) (235.8,38) (235.55,55) (235.25,80) (234.96,105) (234.7,120) (234.46,125) (234.2,119) (233.95,105) (233.7,82) (233.5,61) (233.2,37) (232.86,21) (232.5,13) (232.14,10) (231.6,7) (231.2,5) (231.2,3)} -- cycle;
\addplot[dots] coordinates {(242.0,12) (241.6,14) (241.2,11) (240.8,14) (240.4,15) (240.0,13) (239.6,17) (239.3,18) (239.0,26) (238.7,40) (238.4,55) (238.1,70) (237.8,82) (237.6,89) (237.4,86) (237.1,77) (236.8,63) (236.5,46) (236.3,36) (236.1,32) (235.8,38) (235.5,57) (235.2,80) (235.0,100) (234.8,114) (234.6,122) (234.4,124) (234.2,118) (234.0,108) (233.8,93) (233.5,66) (233.2,40) (233.0,28) (232.7,16) (232.4,12) (232.1,10) (231.8,7) (231.5,6) (231.3,5)};
\addplot[fit] coordinates {(242,11) (240.77,13) (239.53,17) (239.1,25) (238.8,36) (238.5,50) (238.2,66) (237.9,81) (237.58,90) (237.3,85) (237.0,72) (236.75,56) (236.49,42) (236.25,34) (236.05,32) (235.8,39) (235.55,56) (235.25,81) (234.96,106) (234.7,121) (234.46,126) (234.2,120) (233.95,106) (233.7,83) (233.5,62) (233.2,38) (232.86,22) (232.5,14) (232.14,10) (231.6,7) (231.2,5)};
\end{axis}
%---------------- texts (image pixel coordinates)
\begin{scope}[x=0.5pt,y=-0.5pt,yshift=521.5pt]
\tikzset{lw/.style={anchor=west, inner sep=0pt}, ld/.style={line width=0.55pt, black!85}}
% axis titles
\foreach \xx in {25,463,903} {\node[rotate=90, inner sep=0pt, text=cTxt, font=\fAx] at (\xx,476) {Intensity [arb. un.]};}
\node[inner sep=0pt, text=cTxt, font=\fAx] at (275,1029) {Binding energy [eV]};
\node[inner sep=0pt, text=cTxt, font=\fAx] at (705,1029) {Binding energy [eV]};
\node[inner sep=0pt, text=cTxt, font=\fAx] at (1155,1029) {Binding energy [eV]};
% panel a
\node[lw, font=\fLet, text=cTxt] at (54,42) {a)};
\node[lw, font=\fTit, text=cTxt] at (349,42) {C1s};
\node[lw, font=\fLab, text=cLblue] at (54,90) {viii) 3.0 V};
\node[lw, font=\fLab, text=cLblue] at (54,122) {(cycled)};
\node[lw, font=\fLab, text=cLblue] at (54,283) {vii) 4.6 V};
\node[lw, font=\fLab, text=cLblue] at (54,384) {vi) 4.75 V};
\node[lw, font=\fLab, text=cLblue] at (54,506) {v) 4.9 V};
\node[lw, font=\fLab, text=cLred] at (53,614) {iv)\ \ 5.1 V};
\node[lw, font=\fLab, text=cLred] at (53,707) {iii) 4.9 V};
\node[lw, font=\fLab, text=cTxt] at (53,851) {ii) pristine};
\node[lw, font=\fLab, text=cTxt] at (53,952) {i) as prepared};
\node[lw, font=\fPk] at (235,88) {O-C-O/C-F};
\node[lw, font=\fPk] at (380,107) {C-O/};
\node[lw, font=\fPk] at (380,135) {C-OH};
\node[lw, font=\fPk] at (172,139) {O-C=O/CO\textsubscript{3}};
\node[lw, font=\fPk] at (122,180) {CHF-OCO\textsubscript{2-}};
\node[lw, font=\fPk] at (382,167) {C-H/};
\node[lw, font=\fPk] at (382,194) {C sp\textsuperscript{3}};
\draw[ld] (326,103)--(326,115);
\draw[ld] (377,123)--(340,123)--(340,160);
\draw[ld] (295,158)--(309,158)--(309,175);
\draw[ld] (267,190)--(282,190)--(282,196);
\draw[ld] (375,188)--(360,188)--(360,208);
\node[lw, font=\fPk] at (298,695) {C-H/C sp\textsuperscript{3}};
\node[lw, font=\fPk] at (385,727) {C sp\textsuperscript{2}};
\node[lw, font=\fPk] at (216,718) {C-O/C-OH};
\node[lw, font=\fPk] at (173,743) {O-C-O /C-F};
\node[lw, font=\fPk] at (148,769) {O-C=O/CO\textsubscript{3}};
\node[lw, font=\fPk] at (125,797) {CHF-OCO\textsubscript{2-}};
\draw[ld] (355,709)--(364,709)--(364,800);
\draw[ld] (333,723)--(347,723)--(347,787);
\draw[ld] (312,743)--(322,743)--(322,793);
\draw[ld] (283,765)--(298,765)--(298,807);
\node[lw, font=\fPk] at (200,845) {O-C-O/C-F};
\node[lw, font=\fPk] at (358,849) {C-O/};
\node[lw, font=\fPk] at (358,877) {C-OH};
\node[lw, font=\fPk] at (180,874) {O-C=O/CO\textsubscript{3}};
\node[lw, font=\fPk] at (210,903) {Li\textsubscript{2}CO\textsubscript{3}};
\draw[ld] (322,850)--(328,850)--(328,883);
\draw[ld] (298,891)--(308,891)--(308,910);
% panel b
\node[lw, font=\fLet, text=cTxt] at (494,42) {b)};
\node[lw, font=\fTit, text=cTxt] at (809,42) {F1s};
\node[lw, font=\fLab, text=cLblue] at (503,112) {vii) 3.0 V};
\node[lw, font=\fLab, text=cLblue] at (503,143) {(cycled)};
\node[lw, font=\fLab, text=cLblue] at (503,304) {vi) 4.6 V};
\node[lw, font=\fLab, text=cLblue] at (503,416) {v) 4.75 V};
\node[lw, font=\fLab, text=cLblue] at (503,538) {iv) 4.9 V};
\node[lw, font=\fLab, text=cLred] at (501,666) {iii)\ \ 5.1 V};
\node[lw, font=\fLab, text=cLred] at (503,810) {ii) 4.9 V};
\node[lw, font=\fLab, text=cTxt] at (500,947) {i) pristine};
\node[lw, font=\fPk] at (649,107) {Li\textsubscript{x}PF\textsubscript{y}};
\node[lw, font=\fPk] at (731,92) {Li\textsubscript{x}PO\textsubscript{y}F\textsubscript{z}};
\node[lw, font=\fPk] at (653,166) {F-C};
\node[lw, font=\fPk] at (793,170) {LiF};
\draw[ld] (685,131)--(737,131)--(737,167);
\draw[ld] (705,167)--(722,167)--(722,173);
\node[lw, font=\fPk] at (675,743) {Li\textsubscript{x}PF\textsubscript{y}};
\node[lw, font=\fPk] at (783,740) {Li\textsubscript{x}PO\textsubscript{y}F\textsubscript{z}};
\node[lw, font=\fPk] at (808,776) {LiF};
\node[lw, font=\fPk] at (680,792) {F-C};
\draw[ld] (747,742)--(760,742);
\draw[ld] (793,758)--(783,758)--(783,785);
\draw[ld] (723,807)--(743,807)--(743,800);
\node[lw, font=\fPk] at (673,882) {F-C};
\node[lw, font=\fPk] at (762,905) {Li\textsubscript{x}PF\textsubscript{y}};
% panel c
\node[lw, font=\fLet, text=cTxt] at (936,42) {c)};
\node[lw, font=\fTit, text=cTxt] at (1229,42) {Mo3d};
\node[lw, font=\fLab, text=cLblue] at (940,178) {vii) 3.0 V};
\node[lw, font=\fLab, text=cLblue] at (940,208) {(cycled)};
\node[lw, font=\fLab, text=cLblue] at (940,330) {vi) 4.6 V};
\node[lw, font=\fLab, text=cLblue] at (940,492) {v) 4.75 V};
\node[lw, font=\fLab, text=cLblue] at (940,624) {iv) 4.9 V};
\node[lw, font=\fLab, text=cLred] at (940,752) {ii) 4.9 V};
\node[lw, font=\fLab, text=cTxt] at (935,944) {i) as prepared};
\node[lw, font=\fPk, text=cTxt] at (1100,842) {Mo3d\textsubscript{3/2}};
\node[lw, font=\fPk, text=cTxt] at (1228,830) {Mo3d\textsubscript{5/2}};
\foreach \ax/\ay in {1228/213,1240/342,1240/508,1240/636,1248/766,1218/928}
  {\node[inner sep=0pt, font=\fPk\itshape, text=white] at (\ax,\ay) {A};}
\foreach \bx/\by in {1166/238,1177/381,1163/499,1163/626}
  {\node[inner sep=0pt, font=\fPk\itshape, text=cTxt] at (\bx,\by) {B};}
\node[inner sep=0pt, font=\fPk\itshape, text=cTxt] at (1293,187) {C};
\node[inner sep=0pt, font=\fPk\itshape, text=cTxt] at (1293,341) {C};
\draw[ld] (1166,513)--(1180,530);
\draw[ld] (1165,640)--(1172,651);
\draw[ld] (1287,204)--(1264,236);
\draw[ld] (1290,356)--(1277,373);
\end{scope}
\end{tikzpicture}
\end{document}
